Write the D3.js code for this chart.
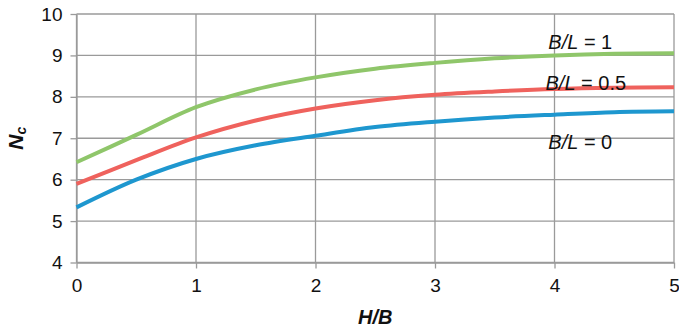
<!DOCTYPE html>
<html>
<head>
<meta charset="utf-8">
<script src="https://cdn.jsdelivr.net/npm/d3@7"></script>
<style>
  html, body { margin: 0; padding: 0; background: #fff; }
  svg { display: block; font-family: "Liberation Sans", Arial, sans-serif; }
</style>
</head>
<body>
<svg id="chart" width="679" height="329"></svg>
<script>
// H/B sample points
const hb = [0, 0.5, 1, 1.5, 2, 2.5, 3, 3.5, 4, 4.5, 5];
// Nc for each B/L ratio
const ncBL0 = [5.33, 6.0, 6.5, 6.83, 7.06, 7.27, 7.40, 7.50, 7.57, 7.63, 7.65];
const ncBL05 = [5.9, 6.47, 7.02, 7.43, 7.72, 7.92, 8.05, 8.13, 8.19, 8.22, 8.23];
const ncBL1 = [6.42, 7.08, 7.75, 8.18, 8.47, 8.68, 8.82, 8.93, 9.0, 9.04, 9.05];
const seriesLabels = ["B/L = 0", "B/L = 0.5", "B/L = 1"];
const xTicks = [0, 1, 2, 3, 4, 5];
const yTicks = [4, 5, 6, 7, 8, 9, 10];

const margin = { top: 14, right: 5, bottom: 66.5, left: 76.5 };
const W = 679, H = 329;
const iw = W - margin.left - margin.right;
const ih = H - margin.top - margin.bottom;

const svg = d3.select("#chart");
const g = svg.append("g").attr("transform", `translate(${margin.left},${margin.top})`);

const x = d3.scaleLinear().domain([0, 5]).range([0, iw]);
const y = d3.scaleLinear().domain([4, 10]).range([ih, 0]);

const gridColor = "#9a9a9a";

// grid lines
g.append("g").selectAll("line.h").data(yTicks).join("line")
  .attr("x1", 0).attr("x2", iw)
  .attr("y1", d => y(d)).attr("y2", d => y(d))
  .attr("stroke", gridColor).attr("stroke-width", 1.3);
g.append("g").selectAll("line.v").data(xTicks).join("line")
  .attr("y1", 0).attr("y2", ih)
  .attr("x1", d => x(d)).attr("x2", d => x(d))
  .attr("stroke", gridColor).attr("stroke-width", 1.3);

// axes
const xAxis = g.append("g").attr("transform", `translate(0,${ih})`)
  .call(d3.axisBottom(x).tickValues(xTicks).tickFormat(d3.format("d")).tickSize(6).tickSizeOuter(0).tickPadding(10));
const yAxis = g.append("g")
  .call(d3.axisLeft(y).tickValues(yTicks).tickFormat(d3.format("d")).tickSize(6).tickSizeOuter(0).tickPadding(8));
[xAxis, yAxis].forEach(a => {
  a.select(".domain").attr("stroke", gridColor).attr("stroke-width", 1.3);
  a.selectAll(".tick line").attr("stroke", gridColor).attr("stroke-width", 1.3);
  a.selectAll(".tick text").attr("fill", "#111").style("font-size", "19px")
    .style("font-family", "'Liberation Sans', Arial, sans-serif");
});

// smoothed curves
const series = [
  { label: seriesLabels[0], values: ncBL0, color: "#1e97cf" },
  { label: seriesLabels[1], values: ncBL05, color: "#ef625d" },
  { label: seriesLabels[2], values: ncBL1, color: "#8fc66a" }
];
const line = d3.line().x(d => x(d[0])).y(d => y(d[1])).curve(d3.curveCatmullRom.alpha(0.5));
g.append("g").selectAll("path").data(series).join("path")
  .attr("d", s => line(hb.map((h, i) => [h, s.values[i]])))
  .attr("fill", "none")
  .attr("stroke", s => s.color)
  .attr("stroke-width", 4)
  .attr("stroke-linecap", "butt");

// series annotations
const annot = [
  { label: seriesLabels[2], px: 548.3, py: 49.3 },
  { label: seriesLabels[1], px: 545.5, py: 89.5 },
  { label: seriesLabels[0], px: 548.3, py: 149.3 }
];
annot.forEach(a => {
  const parts = a.label.split(" = ");
  const t = svg.append("text").attr("x", a.px).attr("y", a.py)
    .style("font-size", "20px").attr("fill", "#111");
  t.append("tspan").style("font-style", "italic").text(parts[0]);
  t.append("tspan").text(" = " + parts[1]);
});

// axis titles
svg.append("text")
  .attr("x", margin.left + iw / 2).attr("y", 324.3)
  .attr("text-anchor", "middle")
  .style("font-size", "20px").style("font-weight", "bold").style("font-style", "italic")
  .attr("fill", "#111")
  .text("H/B");

const yt = svg.append("text")
  .attr("transform", `translate(23.3,${margin.top + ih / 2}) rotate(-90)`)
  .attr("text-anchor", "middle")
  .style("font-size", "21px").style("font-weight", "bold").style("font-style", "italic")
  .attr("fill", "#111");
yt.append("tspan").text("N");
yt.append("tspan").attr("dy", 3).style("font-size", "14px").text("c");
</script>
</body>
</html>
